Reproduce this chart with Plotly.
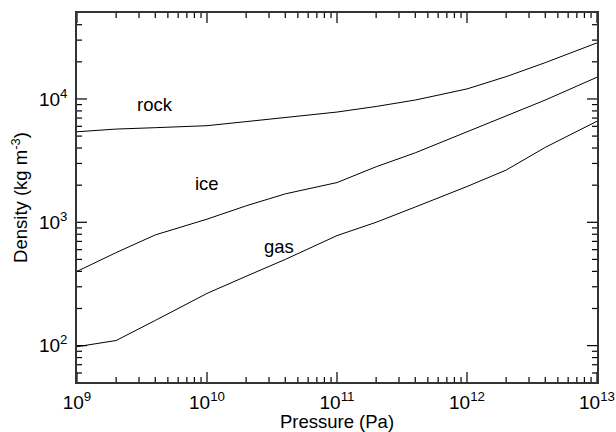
import math
import plotly.graph_objects as go

pressure = [1e9, 2e9, 4e9, 1e10, 2e10, 4e10, 1e11, 2e11, 4e11, 1e12, 2e12, 4e12, 1e13]
rock = [5420, 5700, 5850, 6070, 6550, 7100, 7830, 8690, 9800, 12060, 15170, 19700, 28500]
ice = [400, 568, 790, 1060, 1360, 1700, 2100, 2820, 3660, 5420, 7250, 9800, 15000]
gas = [98, 110, 160, 265, 365, 500, 780, 1000, 1330, 1950, 2650, 4050, 6600]

labels = ["rock", "ice", "gas"]
label_x = [4e9, 1e10, 3.57e10]
label_y = [8940, 2075, 638]

x_exponents = [9, 10, 11, 12, 13]
y_exponents = [2, 3, 4]
x_range_log = [9, 13]
y_range_log = [1.705, 4.697]

W, H = 616, 432
M = dict(l=77, r=19, t=13, b=50)
FONT = "Liberation Sans, Arial, Helvetica, sans-serif"
FS = 18.5

x_major = [10 ** e for e in x_exponents]
y_major = [10 ** e for e in y_exponents]
x_text = ["10<sup>%d</sup>" % e for e in x_exponents]
y_text = ["10<sup>%d</sup>" % e for e in y_exponents]


def minor_in(lo, hi):
    vals = []
    for e in range(int(math.floor(lo)) - 1, int(math.ceil(hi)) + 1):
        for m in range(2, 10):
            lv = math.log10(m * 10 ** e)
            if lo < lv < hi:
                vals.append(m * 10 ** e)
    return vals


x_minor = minor_in(*x_range_log)
y_minor = minor_in(*y_range_log)

# decades per pixel on each axis (for inside tick lengths in pixels)
x_dpp = (x_range_log[1] - x_range_log[0]) / (W - M["l"] - M["r"])
y_dpp = (y_range_log[1] - y_range_log[0]) / (H - M["t"] - M["b"])

fig = go.Figure()
for name, ys in zip(labels, [rock, ice, gas]):
    fig.add_trace(go.Scatter(x=pressure, y=ys, mode="lines", name=name,
                             line=dict(color="black", width=1), showlegend=False))

# inside tick marks on all four sides, built on the axes' own log scale
tx, ty = [], []
for vals, ln in ((x_major, 10), (x_minor, 5)):
    for v in vals:
        for base, sign in ((y_range_log[0], 1), (y_range_log[1], -1)):
            tx += [v, v, None]
            ty += [10 ** base, 10 ** (base + sign * ln * y_dpp), None]
for vals, ln in ((y_major, 10), (y_minor, 5)):
    for v in vals:
        for base, sign in ((x_range_log[0], 1), (x_range_log[1], -1)):
            ty += [v, v, None]
            tx += [10 ** base, 10 ** (base + sign * ln * x_dpp), None]
fig.add_trace(go.Scatter(x=tx, y=ty, mode="lines", line=dict(color="black", width=1.2),
                         showlegend=False, hoverinfo="skip", connectgaps=False))

for t, lx, ly in zip(labels, label_x, label_y):
    fig.add_annotation(x=math.log10(lx), y=math.log10(ly), text=t, showarrow=False,
                       font=dict(family=FONT, size=FS, color="black"))

LINE = "#333333"
common = dict(type="log", showline=True, linecolor=LINE, linewidth=1.5, mirror=True,
              ticks="", showgrid=False, zeroline=False, tickmode="array",
              tickfont=dict(family=FONT, size=19, color="black"))

fig.update_xaxes(range=x_range_log, tickvals=x_major, ticktext=x_text, ticklabelstandoff=2,
                 title=dict(text="Pressure (Pa)", font=dict(family=FONT, size=FS, color="black"),
                            standoff=4),
                 **common)
fig.update_yaxes(range=y_range_log, tickvals=y_major, ticktext=y_text, ticklabelstandoff=4,
                 title=dict(text="Density (kg m<sup>-3</sup>)",
                            font=dict(family=FONT, size=FS, color="black"), standoff=6),
                 **common)

fig.update_layout(width=W, height=H,
                  margin=dict(**M, autoexpand=False),
                  plot_bgcolor="white", paper_bgcolor="white",
                  font=dict(family=FONT, size=FS, color="black"))

fig.write_html("out.html")
